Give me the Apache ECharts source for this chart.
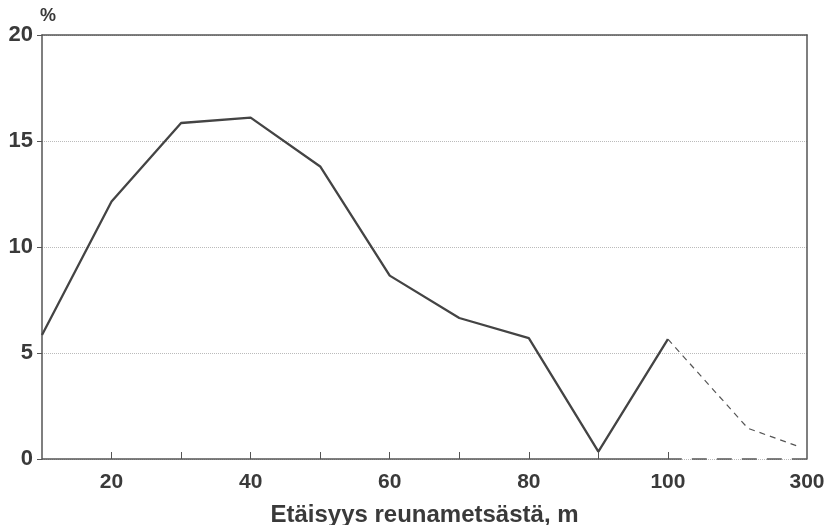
<!DOCTYPE html>
<html>
<head>
<meta charset="utf-8">
<script src="https://cdn.jsdelivr.net/npm/echarts@6/dist/echarts.min.js"></script>
<style>
  html, body { margin: 0; padding: 0; background: #fff; }
  #main { width: 831px; height: 525px; }
</style>
</head>
<body>
<div id="main"></div>
<script>
// distance from forest edge (m) and share (%)
var distances = [10, 20, 30, 40, 50, 60, 70, 80, 90, 100];
var shares = [5.85, 12.15, 15.85, 16.1, 13.8, 8.65, 6.65, 5.7, 0.35, 5.65];
// tail beyond 100 m, drawn dashed on a compressed scale
var tailDistances = [100, 215, 287];
var tailShares = [5.65, 1.45, 0.6];
var xLabels = [20, 40, 60, 80, 100, 300];
var yTicks = [0, 5, 10, 15, 20];

// axis position: linear up to 100 m, then 100..300 m squeezed into 100..120
function pos(m) {
  return m <= 100 ? m : 100 + (m - 100) / 10;
}

var textCol = '#3a3a3a';
var lineCol = '#555';
var font = '"Liberation Sans", Arial, sans-serif';

var chart = echarts.init(document.getElementById('main'));
var option = {
  animation: false,
  backgroundColor: '#fff',
  grid: { left: 42, right: 24, top: 35, bottom: 66, outerBoundsMode: 'none', containLabel: false },
  xAxis: [
    {
      type: 'value',
      min: 10,
      max: 120,
      interval: 10,
      name: 'Etäisyys reunametsästä, m',
      nameLocation: 'middle',
      nameGap: 44,
      nameTextStyle: { color: textCol, fontSize: 24, fontWeight: 'bold', fontFamily: font },
      axisLine: { show: false, onZero: false },
      axisTick: {
        show: true,
        inside: true,
        length: 7,
        customValues: [20, 30, 40, 50, 60, 70, 80, 90, 100],
        lineStyle: { color: lineCol, width: 1 }
      },
      axisLabel: {
        customValues: xLabels.map(pos),
        formatter: function (v) { return v > 100 ? '300' : String(v); },
        color: textCol, fontSize: 21, fontWeight: 'bold', fontFamily: font, margin: 13
      },
      splitLine: { show: false }
    },
    {
      type: 'value',
      position: 'top',
      min: 10,
      max: 120,
      axisLine: { show: true, onZero: false, lineStyle: { color: lineCol, width: 1.5 } },
      axisTick: { show: false },
      axisLabel: { show: false },
      splitLine: { show: false }
    }
  ],
  yAxis: [
    {
      type: 'value',
      min: 0,
      max: 20,
      interval: 5,
      name: '%',
      nameLocation: 'end',
      nameGap: 10,
      nameTextStyle: { color: textCol, fontSize: 18, fontWeight: 'bold', fontFamily: font, align: 'left', padding: [0, 0, 0, -2] },
      axisLine: { show: true, onZero: false, lineStyle: { color: lineCol, width: 1.5 } },
      axisTick: { show: true, length: 5, lineStyle: { color: lineCol } },
      axisLabel: {
        color: textCol, fontSize: 22, fontWeight: 'bold', fontFamily: font, margin: 9,
        formatter: function (v) { return yTicks.indexOf(v) >= 0 ? String(v) : ''; }
      },
      splitLine: { show: true, lineStyle: { color: '#bbb', type: 'dotted', width: 1 } }
    },
    {
      type: 'value',
      position: 'right',
      min: 0,
      max: 20,
      axisLine: { show: true, onZero: false, lineStyle: { color: lineCol, width: 1.5 } },
      axisTick: { show: false },
      axisLabel: { show: false },
      splitLine: { show: false }
    }
  ],
  series: [
    {
      // solid part of the bottom axis
      type: 'line',
      data: [[10, 0], [102, 0]],
      symbol: 'none',
      silent: true,
      clip: false,
      lineStyle: { color: lineCol, width: 1.5 },
      z: 1
    },
    {
      // dashed part of the bottom axis (compressed range)
      type: 'line',
      data: [[102, 0], [120, 0]],
      symbol: 'none',
      silent: true,
      clip: false,
      lineStyle: { color: lineCol, width: 1.5, type: [15, 10], dashOffset: -10 },
      z: 1
    },
    {
      type: 'line',
      data: distances.map(function (d, i) { return [pos(d), shares[i]]; }),
      symbol: 'none',
      lineStyle: { color: '#444', width: 2.3 },
      z: 3
    },
    {
      type: 'line',
      data: tailDistances.map(function (d, i) { return [pos(d), tailShares[i]]; }),
      symbol: 'none',
      lineStyle: { color: '#555', width: 1.2, type: [6, 5] },
      z: 3
    }
  ]
};
chart.setOption(option);
</script>
</body>
</html>
